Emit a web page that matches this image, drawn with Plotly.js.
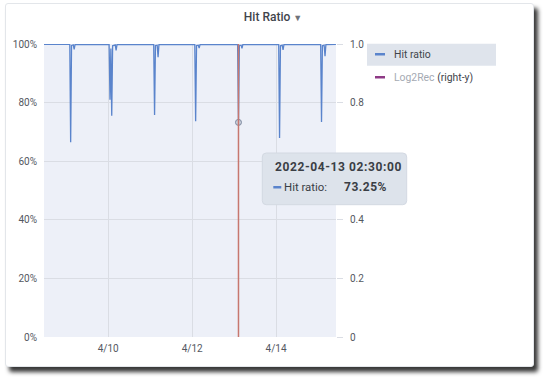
<!DOCTYPE html>
<html>
<head>
<meta charset="utf-8">
<script src="https://cdn.plot.ly/plotly-3.0.1.min.js"></script>
<style>
  html, body { margin: 0; padding: 0; background: #ffffff; width: 545px; height: 378px; overflow: hidden; }
  #panel { position: absolute; left: 5px; top: 3px; width: 527px; height: 362px; background: #ffffff;
           border: 1px solid #e3e6ea; border-radius: 3px; box-shadow: 4px 5px 4px rgba(0,0,0,0.78); }
  #chart { position: absolute; left: 0; top: 0; width: 545px; height: 378px; }
</style>
</head>
<body>
<div id="panel"></div>
<div id="chart"></div>
<script>
// ---- data ----
const times = [
  '2022-04-08 11:15', '2022-04-08 18:00',
  '2022-04-09 02:00', '2022-04-09 02:30', '2022-04-09 03:00', '2022-04-09 04:00', '2022-04-09 04:30', '2022-04-09 05:00', '2022-04-09 14:00',
  '2022-04-10 00:30', '2022-04-10 01:00', '2022-04-10 01:30', '2022-04-10 02:00', '2022-04-10 02:30', '2022-04-10 04:00', '2022-04-10 04:30', '2022-04-10 05:00', '2022-04-10 14:00',
  '2022-04-11 02:00', '2022-04-11 02:30', '2022-04-11 03:00', '2022-04-11 04:00', '2022-04-11 04:30', '2022-04-11 05:00', '2022-04-11 14:00',
  '2022-04-12 01:30', '2022-04-12 02:00', '2022-04-12 02:30', '2022-04-12 03:30', '2022-04-12 04:00', '2022-04-12 04:30', '2022-04-12 14:00',
  '2022-04-13 02:00', '2022-04-13 02:30', '2022-04-13 03:00', '2022-04-13 04:00', '2022-04-13 04:30', '2022-04-13 05:00', '2022-04-13 14:00',
  '2022-04-14 01:30', '2022-04-14 02:00', '2022-04-14 02:30', '2022-04-14 03:30', '2022-04-14 04:00', '2022-04-14 04:30', '2022-04-14 14:00',
  '2022-04-15 01:30', '2022-04-15 02:00', '2022-04-15 02:30', '2022-04-15 03:30', '2022-04-15 04:00', '2022-04-15 04:30', '2022-04-15 10:15'
];
const hitRatio = [
  99.9, 99.8,
  99.9, 66.5, 99.5, 99.7, 98.2, 99.8, 99.9,
  99.9, 81.0, 98.5, 75.5, 99.4, 99.7, 97.8, 99.8, 99.9,
  99.9, 75.8, 99.5, 99.6, 95.5, 99.8, 99.9,
  99.9, 73.6, 99.5, 99.6, 98.6, 99.8, 99.9,
  99.9, 73.25, 99.5, 99.6, 98.5, 99.8, 99.9,
  99.9, 67.9, 99.4, 99.6, 98.0, 99.8, 99.9,
  99.9, 73.4, 99.4, 99.6, 95.8, 99.8, 99.9
];
const log2RecTimes = [];
const log2RecValues = [];

const xTickVals = ['2022-04-10', '2022-04-12', '2022-04-14'];
const xTickText = ['4/10', '4/12', '4/14'];
const yLeftVals = [0, 20, 40, 60, 80, 100];
const yLeftText = ['0%', '20%', '40%', '60%', '80%', '100%'];
const yRightVals = [0, 0.2, 0.4, 0.6, 0.8, 1.0];
// the 0.6 label sits under the tooltip in the reference, so it is not shown
const yRightText = ['0', '0.2', '0.4', '', '0.8', '1.0'];
const xRange = ['2022-04-08 11:15', '2022-04-15 10:17'];

const seriesNames = ['Hit ratio', 'Log2Rec'];
const hoverTime = '2022-04-13 02:30';
const hoverLabel = '2022-04-13 02:30:00';
const hoverValue = 73.25;

// ---- layout helpers (pixel -> paper) ----
const L = 44, R = 336, T = 44.3, B = 337.3;
const px = v => (v - L) / (R - L);
const py = v => (B - v) / (B - T);

function roundRect(x0, y0, x1, y1, r) {
  const rx = r / (R - L), ry = r / (B - T);
  const X0 = px(x0), X1 = px(x1), Y0 = py(y0), Y1 = py(y1);
  return `M ${X0 + rx} ${Y0} L ${X1 - rx} ${Y0} Q ${X1} ${Y0} ${X1} ${Y0 - ry} L ${X1} ${Y1 + ry} Q ${X1} ${Y1} ${X1 - rx} ${Y1} L ${X0 + rx} ${Y1} Q ${X0} ${Y1} ${X0} ${Y1 + ry} L ${X0} ${Y0 - ry} Q ${X0} ${Y0} ${X0 + rx} ${Y0} Z`;
}

const blue = '#5a84cc';
const purple = '#8e3a86';
const gridColor = '#dadde4';
const tickFont = { family: 'Roboto, sans-serif', size: 10, color: '#54585f' };

const traces = [
  {
    x: times, y: hitRatio, type: 'scatter', mode: 'lines', name: seriesNames[0],
    line: { color: blue, width: 1.3 }, hoverinfo: 'skip', showlegend: false
  },
  {
    x: log2RecTimes, y: log2RecValues, type: 'scatter', mode: 'lines', name: seriesNames[1],
    yaxis: 'y2', line: { color: purple, width: 1.3 }, hoverinfo: 'skip', showlegend: false
  },
  {
    x: [hoverTime], y: [hoverValue], type: 'scatter', mode: 'markers', name: 'hover',
    marker: { size: 6, color: '#c9d0dc', line: { color: '#7e89a0', width: 1 } },
    hoverinfo: 'skip', showlegend: false, cliponaxis: false
  }
];

const layout = {
  width: 545, height: 378,
  margin: { l: L, r: 545 - R, t: T, b: 378 - B, pad: 0 },
  paper_bgcolor: 'rgba(0,0,0,0)',
  plot_bgcolor: '#edf0f8',
  showlegend: false,
  font: { family: 'Roboto, sans-serif', color: '#464c54' },
  title: {
    text: "Hit Ratio <span style='font-size:9px;color:#6f737a'>▼</span>",
    font: { family: 'Roboto, sans-serif', size: 12, color: '#3f444b', weight: 500 },
    x: 273 / 545, xref: 'container', xanchor: 'center',
    y: 1 - 16.7 / 378, yref: 'container', yanchor: 'middle'
  },
  xaxis: {
    type: 'date', range: xRange,
    tickvals: xTickVals, ticktext: xTickText,
    showgrid: true, gridcolor: gridColor, gridwidth: 1,
    zeroline: false, showline: false, ticks: '',
    tickfont: tickFont, ticklabelstandoff: 4
  },
  yaxis: {
    range: [0, 100], tickvals: yLeftVals, ticktext: yLeftText,
    showgrid: true, gridcolor: gridColor, gridwidth: 1,
    zeroline: false, showline: false, ticks: '',
    tickfont: tickFont, ticklabelstandoff: 6
  },
  yaxis2: {
    range: [0, 1], overlaying: 'y', side: 'right', anchor: 'x',
    tickvals: yRightVals, ticktext: yRightText,
    showgrid: false, zeroline: false, showline: false,
    ticks: 'outside', ticklen: 6, tickcolor: gridColor, tickwidth: 1,
    tickfont: tickFont, ticklabelstandoff: 5
  },
  shapes: [
    { type: 'line', xref: 'x', yref: 'paper', x0: hoverTime, x1: hoverTime, y0: 0, y1: 1,
      line: { color: '#c7776f', width: 1.5 } },
    { type: 'rect', xref: 'paper', yref: 'paper', x0: px(367), x1: px(496), y0: py(44), y1: py(66),
      fillcolor: '#dfe4ec', line: { width: 0 }, layer: 'below' },
    { type: 'rect', xref: 'paper', yref: 'paper', x0: px(375), x1: px(385), y0: py(53.3), y1: py(55.8),
      fillcolor: blue, line: { width: 0 } },
    { type: 'rect', xref: 'paper', yref: 'paper', x0: px(375), x1: px(385), y0: py(76.3), y1: py(78.8),
      fillcolor: purple, line: { width: 0 } },
    { type: 'path', xref: 'paper', yref: 'paper', path: roundRect(262.3, 153.3, 406.7, 205, 4),
      fillcolor: '#dde3eb', line: { color: '#d3d9e2', width: 1 } },
    { type: 'rect', xref: 'paper', yref: 'paper', x0: px(273.3), x1: px(281.3), y0: py(186.3), y1: py(188.8),
      fillcolor: blue, line: { width: 0 } }
  ],
  annotations: [
    { xref: 'paper', yref: 'paper', x: px(391.5), y: py(54.5), xanchor: 'left', yanchor: 'middle',
      text: seriesNames[0], showarrow: false, font: { family: 'Roboto, sans-serif', size: 10.4, color: '#3f444b' } },
    { xref: 'paper', yref: 'paper', x: px(391.5), y: py(77.5), xanchor: 'left', yanchor: 'middle',
      text: "<span style='color:#a5aab3'>" + seriesNames[1] + "</span> (right-y)", showarrow: false,
      font: { family: 'Roboto, sans-serif', size: 10.4, color: '#3f444b' } },
    { xref: 'paper', yref: 'paper', x: px(272.5), y: py(167.7), xanchor: 'left', yanchor: 'middle',
      text: "<span style='letter-spacing:0.6px'>" + hoverLabel + "</span>", showarrow: false,
      font: { family: 'Roboto, sans-serif', size: 12, color: '#3a3e45', weight: 700 } },
    { xref: 'paper', yref: 'paper', x: px(281.8), y: py(187.7), xanchor: 'left', yanchor: 'middle',
      text: seriesNames[0] + ':', showarrow: false,
      font: { family: 'Roboto, sans-serif', size: 11.4, color: '#3a3e45' } },
    { xref: 'paper', yref: 'paper', x: px(341.8), y: py(187.7), xanchor: 'left', yanchor: 'middle',
      text: "<span style='letter-spacing:0.5px'>" + hoverValue.toFixed(2) + '%</span>', showarrow: false,
      font: { family: 'Roboto, sans-serif', size: 12, color: '#3a3e45', weight: 700 } }
  ]
};

Plotly.newPlot('chart', traces, layout, { staticPlot: true, displayModeBar: false });
</script>
</body>
</html>
